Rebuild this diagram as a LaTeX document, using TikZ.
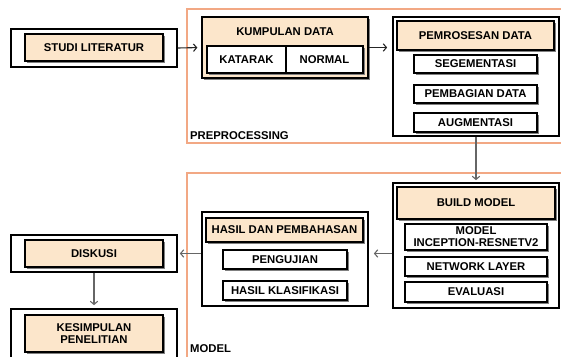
\documentclass[tikz,border=0pt]{standalone}
\usepackage{fontspec}
\setmainfont{Liberation Sans}
\usetikzlibrary{arrows.meta,shadows}
\definecolor{boxtan}{HTML}{FCE6CB}
\definecolor{framec}{HTML}{F2A884}
\definecolor{arrowc}{HTML}{666666}
\tikzset{
  txt/.style={font=\bfseries\fontsize{11.3}{11.8}\selectfont, inner sep=0pt, align=center},
  outerbox/.style={draw=black, line width=1.7pt, fill=white, inner sep=0pt},
  headbox/.style={txt, draw=black, line width=1.3pt, fill=boxtan,
    drop shadow={shadow xshift=1.5pt,shadow yshift=-1.5pt,fill=black!50,opacity=1}},
  subbox/.style={headbox, fill=white},
  frame/.style={draw=framec, line width=1.2pt},
  arr/.style={-{Straight Barb[length=3.2pt,width=7.5pt]}, line width=1.1pt, draw=arrowc},
  darr/.style={arr, draw=black!85},
  lbl/.style={txt, anchor=west}
}
\begin{document}
\begin{tikzpicture}[x=1pt,y=-1pt]
\clip (0,0) rectangle (561,356);
\fill[white] (0,0) rectangle (561,356);
% frames
\draw[frame] (570,9) -- (187,9) -- (187,143) -- (570,143);
\draw[frame] (570,173) -- (187,173) -- (187,370);
\node[lbl] (prep) at (190,135.5) {PREPROCESSING};
\node[lbl] (model) at (190,349) {MODEL};
% studi literatur
\node[outerbox, minimum width=166pt, minimum height=38pt] (studiO) at (94,48) {};
\node[headbox, minimum width=138pt, minimum height=27pt] (studiI) at (94,47.5) {STUDI LITERATUR};
% kumpulan data
\node[headbox, minimum width=166pt, minimum height=61pt] (kumpul) at (285,47.5) {};
\node[txt] (kumpulT) at (285,32) {KUMPULAN DATA};
\node[subbox, minimum width=79pt, minimum height=27pt] (katarak) at (246.5,59.5) {KATARAK};
\node[subbox, minimum width=77pt, minimum height=27pt] (normal) at (324.5,59.5) {NORMAL};
% pemrosesan
\node[outerbox, minimum width=166pt, minimum height=119pt] (pemO) at (476,76.5) {};
\node[headbox, minimum width=157pt, minimum height=29pt] (pemH) at (475.5,35.5) {PEMROSESAN DATA};
\node[subbox, minimum width=123pt, minimum height=18pt] (seg) at (475.5,64) {SEGEMENTASI};
\node[subbox, minimum width=123pt, minimum height=18pt] (pemb) at (475.5,94) {PEMBAGIAN DATA};
\node[subbox, minimum width=123pt, minimum height=19pt] (aug) at (475.5,122.5) {AUGMENTASI};
% build model
\node[outerbox, minimum width=166pt, minimum height=125pt] (buildO) at (476,245.5) {};
\node[headbox, minimum width=158pt, minimum height=32pt] (buildH) at (476,203) {BUILD MODEL};
\node[subbox, minimum width=142pt, minimum height=26pt] (incep) at (476,237) {MODEL\\INCEPTION-RESNETV2};
\node[subbox, minimum width=142pt, minimum height=19pt] (netw) at (476,266.5) {NETWORK LAYER};
\node[subbox, minimum width=142pt, minimum height=20pt] (eval) at (476,292) {EVALUASI};
% hasil
\node[outerbox, minimum width=166pt, minimum height=94pt] (hasilO) at (285,259) {};
\node[headbox, minimum width=157pt, minimum height=24pt] (hasilH) at (284.5,230) {HASIL DAN PEMBAHASAN};
\node[subbox, minimum width=124pt, minimum height=19pt] (peng) at (285,259.5) {PENGUJIAN};
\node[subbox, minimum width=124pt, minimum height=19pt] (klas) at (285,290.5) {HASIL KLASIFIKASI};
% diskusi
\node[outerbox, minimum width=166pt, minimum height=37pt] (diskO) at (94,253.5) {};
\node[headbox, minimum width=138pt, minimum height=27pt] (diskI) at (94,253.5) {DISKUSI};
% kesimpulan
\node[outerbox, minimum width=166pt, minimum height=70pt] (kesO) at (94,344) {};
\node[headbox, minimum width=138pt, minimum height=37pt] (kesI) at (94,333.5) {KESIMPULAN\\PENELITIAN};
% arrows
\draw[darr, shorten >=4pt] (studiO.east) -- (kumpul.west);
\draw[darr, shorten >=5pt] (kumpul.east) -- (kumpul.east -| pemO.west);
\draw[arr, shorten >=2pt] (pemO.south) -- (buildO.north);
\draw[arr, shorten >=5pt] (buildO.west |- diskO.east) -- (hasilO.east |- diskO.east);
\draw[arr, shorten >=2pt] (hasilO.west |- diskO.east) -- (diskO.east);
\draw[arr, shorten >=3pt] (diskO.south) -- (kesO.north);
\end{tikzpicture}
\end{document}
